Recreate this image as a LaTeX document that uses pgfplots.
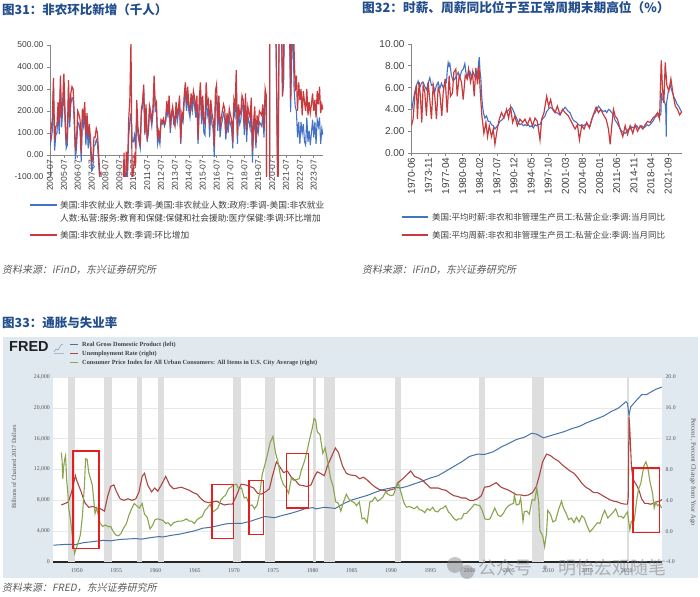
\documentclass[border=0pt]{standalone}
\usepackage{pgfplots}
\usepackage{pgfplotstable}
\pgfplotsset{compat=1.18}
\usepackage{fontspec}
\setmainfont{Liberation Sans}
\newfontfamily\cjk{Noto Sans CJK SC}
\newfontfamily\cjkit{Noto Sans CJK SC}[FakeSlant=0.2]
\newfontfamily\serif{Liberation Serif}

\definecolor{titleblue}{RGB}{35,78,140}
\definecolor{xlblue}{RGB}{68,114,196}
\definecolor{xlred}{RGB}{200,58,62}
\definecolor{xlaxis}{RGB}{134,134,134}
\definecolor{xllab}{RGB}{64,64,64}
\definecolor{srcgray}{RGB}{90,90,90}
\definecolor{fredbg}{RGB}{225,233,240}
\definecolor{fredgrid}{RGB}{232,232,232}
\definecolor{fredrec}{RGB}{222,222,222}
\definecolor{fredblue}{RGB}{69,114,167}
\definecolor{fredred}{RGB}{170,70,67}
\definecolor{fredgreen}{RGB}{137,165,78}
\definecolor{fredlab}{RGB}{85,85,85}
\definecolor{boxred}{RGB}{230,30,30}

% nonfarm payrolls, monthly change (thousands), 2004-07 .. 2024-03
% x = months since 2004-07, r = total, b = total - government - health care
\pgfplotstableread{
x r b
0 60 40
1 120 70
2 160 110
3 350 300
4 65 20
5 130 90
6 135 100
7 240 190
8 140 95
9 360 310
10 170 125
11 245 200
12 370 320
13 195 150
14 65 30
15 85 45
16 340 290
17 160 125
18 280 230
19 310 260
20 300 255
21 180 140
22 20 -20
23 80 40
24 200 150
25 185 140
26 160 110
27 10 -30
28 210 160
29 170 130
30 240 190
31 90 45
32 190 150
33 80 30
34 140 100
35 75 30
36 -30 -70
37 -20 -60
38 80 40
39 80 45
40 120 70
41 100 55
42 10 -30
43 -85 -120
44 -80 -120
45 -215 -250
46 -180 -220
47 -170 -210
48 -210 -250
49 -270 -310
50 -460 -500
51 -480 -520
52 -730 -770
53 -700 -740
54 -780 -820
55 -700 -740
56 -800 -840
57 -700 -750
58 -350 -390
59 -470 -510
60 -330 -370
61 -200 -240
62 -260 -300
63 -200 -240
64 10 -30
65 -280 -320
66 15 -10
67 -70 -100
68 160 80
69 250 150
70 520 190
71 -130 60
72 -80 60
73 -10 90
74 -50 30
75 250 200
76 125 90
77 85 60
78 40 30
79 210 190
80 240 220
81 320 300
82 100 90
83 230 210
84 70 60
85 110 100
86 225 200
87 200 170
88 145 130
89 210 190
90 360 320
91 225 200
92 240 210
93 75 50
94 110 80
95 75 50
96 160 150
97 150 140
98 165 150
99 140 130
100 160 150
101 245 220
102 190 170
103 270 250
104 120 100
105 190 170
106 220 200
107 175 140
108 140 130
109 240 210
110 180 150
111 210 190
112 270 240
113 60 50
114 190 170
115 170 150
116 270 240
117 330 290
118 230 200
119 310 270
120 230 200
121 200 170
122 280 240
123 230 200
124 290 260
125 260 220
126 200 170
127 270 230
128 70 50
129 250 210
130 330 290
131 180 140
132 270 230
133 150 100
134 140 90
135 330 280
136 230 180
137 250 210
138 130 80
139 250 200
140 190 140
141 160 120
142 40 -10
143 290 240
144 320 260
145 150 110
146 270 220
147 120 80
148 170 130
149 200 160
150 230 190
151 210 170
152 100 70
153 190 150
154 140 100
155 210 170
156 180 140
157 160 120
158 60 30
159 250 210
160 220 180
161 385 330
162 90 50
163 230 190
164 180 140
165 200 160
166 270 230
167 250 210
168 130 90
169 280 240
170 110 60
171 220 180
172 190 150
173 170 120
174 260 210
175 20 -35
176 150 110
177 220 170
178 60 30
179 180 130
180 140 100
181 200 150
182 190 140
183 180 130
184 230 180
185 120 80
186 300 250
187 270 220
188 -1400 -1300
189 -20500 -17000
190 2800 2300
191 4600 4200
192 1700 1500
193 1600 1200
194 700 900
195 680 700
196 260 270
197 -270 -200
198 520 600
199 710 650
200 700 600
201 270 265
202 455 330
203 960 800
204 1090 900
205 700 600
206 650 560
207 700 600
208 250 195
209 700 450
210 900 600
211 480 300
212 290 220
213 360 200
214 200 80
215 330 150
216 250 50
217 300 150
218 180 100
219 290 140
220 240 60
221 200 45
222 300 170
223 180 60
224 240 110
225 190 45
226 230 100
227 280 160
228 200 80
229 250 150
230 170 50
231 290 160
232 230 130
233 310 170
234 190 50
235 230 120
236 205 90
}\nfp

\begin{document}
\begin{tikzpicture}[x=1pt,y=1pt]
\useasboundingbox (0,0) rectangle (700,596);

% ---------------- 图31 ----------------
\node[anchor=west, inner sep=0, text=titleblue, font=\cjk\bfseries\fontsize{12.5}{14}\selectfont] at (2,586) {图31：非农环比新增（千人）};
\begin{axis}[
  at={(50pt,419pt)}, anchor=south west, scale only axis,
  width=273pt, height=132pt,
  xmin=0, xmax=236, ymin=-100, ymax=500,
  axis x line*=middle, axis y line*=left,
  axis line style={xlaxis, line width=0.6pt, -},
  hide obscured x ticks=false, hide obscured y ticks=false,
  xtick={0,12,...,228},
  xticklabels={2004-07,2005-07,2006-07,2007-07,2008-07,2009-07,2010-07,2011-07,2012-07,2013-07,2014-07,2015-07,2016-07,2017-07,2018-07,2019-07,2020-07,2021-07,2022-07,2023-07},
  ytick={-100,0,...,500},
  /pgf/number format/assume math mode=true,
  yticklabel style={/pgf/number format/.cd, fixed, fixed zerofill, precision=2, 1000 sep={}},
  ticklabel style={font=\fontsize{8.5}{9}\selectfont, text=xllab},
  xticklabel style={rotate=90, anchor=east, inner sep=1.5pt},
  tick align=outside, major tick length=3pt,
  tick style={xlaxis, line width=0.6pt},
]
\addplot[xlblue, line width=1.1pt] table[x=x, y=b] {\nfp};
\addplot[xlred, line width=1.2pt] table[x=x, y=r] {\nfp};
\end{axis}
\draw[xlblue, line width=1.3pt] (30,391) -- (57,391);
\node[anchor=west, inner sep=0, font=\cjk\fontsize{8.7}{10}\selectfont, text=xllab] at (60,391) {美国:非农就业人数:季调-美国:非农就业人数:政府:季调-美国:非农就业};
\node[anchor=west, inner sep=0, font=\cjk\fontsize{8.7}{10}\selectfont, text=xllab] at (60,378) {人数:私营:服务:教育和保健:保健和社会援助:医疗保健:季调:环比增加};
\draw[xlred, line width=1.3pt] (30,361) -- (57,361);
\node[anchor=west, inner sep=0, font=\cjk\fontsize{8.7}{10}\selectfont, text=xllab] at (60,361) {美国:非农就业人数:季调:环比增加};
\node[anchor=west, inner sep=0, font=\cjkit\fontsize{10}{11}\selectfont, text=srcgray] at (2,326) {资料来源：iFinD，东兴证券研究所};

% ---------------- 图32 ----------------
\node[anchor=west, inner sep=0, text=titleblue, font=\cjk\bfseries\fontsize{12.7}{14}\selectfont] at (362,588) {图32：时薪、周薪同比位于至正常周期末期高位（\%）};
\begin{axis}[
  at={(411pt,443pt)}, anchor=south west, scale only axis,
  width=271pt, height=109pt,
  xmin=1970.35, xmax=2024.45, ymin=0, ymax=10,
  axis x line*=bottom, axis y line*=left,
  axis line style={xlaxis, line width=0.6pt, -},
  xtick={1970.417,1973.833,1977.25,1980.667,1984.083,1987.5,1990.917,1994.333,1997.75,2001.167,2004.583,2008,2011.417,2014.833,2018.25,2021.667},
  xticklabels={1970-06,1973-11,1977-04,1980-09,1984-02,1987-07,1990-12,1994-05,1997-10,2001-03,2004-08,2008-01,2011-06,2014-11,2018-04,2021-09},
  ytick={0,2,...,10},
  /pgf/number format/assume math mode=true,
  yticklabel style={/pgf/number format/.cd, fixed, fixed zerofill, precision=2},
  ticklabel style={font=\fontsize{10}{11}\selectfont, text=xllab},
  xticklabel style={rotate=90, anchor=east, inner sep=1.5pt},
  tick align=outside, major tick length=3pt,
  tick style={xlaxis, line width=0.6pt},
]
\addplot[xlblue, line width=1.1pt] coordinates {
(1970.43,4.5) (1970.6,4.2) (1970.77,4.8) (1971.1,5.6) (1971.43,6.2) (1971.77,6.6) (1972.1,6.0) (1972.43,6.4) (1972.77,6.5) (1973.1,6.1) (1973.43,5.8) (1973.77,6.4) (1974.1,6.9) (1974.43,6.2) (1974.77,6.3) (1975.1,5.6) (1975.43,6.2) (1975.77,6.5) (1976.1,5.9) (1976.43,6.4) (1976.77,6.0) (1977.1,6.3) (1977.43,6.5) (1977.6,7.6) (1977.77,8.3) (1977.95,8.0) (1978.1,8.2) (1978.43,7.1) (1978.77,6.6) (1979.1,6.8) (1979.43,7.1) (1979.77,7.4) (1980.1,6.9) (1980.43,7.5) (1980.77,7.7) (1981.1,8.2) (1981.3,7.4) (1981.57,6.8) (1981.83,7.2) (1982.1,7.5) (1982.43,6.9) (1982.77,7.4) (1983.1,7.0) (1983.43,6.9) (1983.7,7.6) (1983.97,8.8) (1984.13,7.5) (1984.3,6.8) (1984.47,5.2) (1984.63,4.3) (1984.85,3.6) (1985.1,3.2) (1985.43,3.4) (1985.77,2.9) (1986.1,2.9) (1986.43,2.6) (1986.77,2.5) (1987.1,2.2) (1987.43,2.4) (1987.77,2.6) (1988.1,2.9) (1988.43,3.0) (1988.77,3.2) (1989.1,3.6) (1989.43,3.8) (1989.77,3.9) (1990.1,4.1) (1990.43,4.2) (1990.77,3.9) (1991.1,3.5) (1991.43,3.2) (1991.77,2.8) (1992.1,2.6) (1992.43,2.7) (1992.77,2.5) (1993.1,2.6) (1993.43,2.5) (1993.77,2.6) (1994.1,2.4) (1994.43,2.5) (1994.77,2.3) (1995.1,2.6) (1995.43,2.5) (1995.77,2.6) (1996.1,2.6) (1996.43,3.0) (1996.77,3.2) (1997.1,3.4) (1997.43,3.8) (1997.77,4.0) (1998.1,4.2) (1998.43,4.1) (1998.77,4.0) (1999.1,3.8) (1999.43,3.7) (1999.77,3.6) (2000.1,3.5) (2000.43,3.8) (2000.77,4.0) (2001.1,4.2) (2001.43,4.0) (2001.77,3.8) (2002.1,3.7) (2002.43,3.3) (2002.77,3.0) (2003.1,2.9) (2003.43,2.8) (2003.77,2.6) (2004.1,2.5) (2004.43,2.6) (2004.77,2.5) (2005.1,2.6) (2005.43,2.7) (2005.77,2.5) (2006.1,2.5) (2006.43,3.0) (2006.77,3.5) (2007.1,3.7) (2007.43,4.0) (2007.77,4.3) (2008.1,4.1) (2008.43,3.9) (2008.77,3.8) (2009.1,3.9) (2009.43,3.7) (2009.77,4.0) (2010.1,3.9) (2010.43,3.7) (2010.77,3.5) (2011.1,3.0) (2011.43,2.8) (2011.77,2.5) (2012.1,2.2) (2012.43,2.0) (2012.77,1.9) (2013.1,1.8) (2013.43,2.0) (2013.77,2.2) (2014.1,2.2) (2014.43,2.4) (2014.77,2.3) (2015.1,2.5) (2015.43,2.5) (2015.77,2.2) (2016.1,2.4) (2016.43,2.5) (2016.77,2.3) (2017.1,2.4) (2017.43,2.6) (2017.77,2.5) (2018.1,2.6) (2018.43,2.8) (2018.77,3.0) (2019.1,3.3) (2019.43,3.4) (2019.77,3.6) (2020.05,3.5) (2020.23,3.5) (2020.35,5.5) (2020.5,5.0) (2020.7,4.8) (2020.9,4.7) (2021.1,4.5) (2021.23,3.6) (2021.3,1.5) (2021.37,4.6) (2021.5,5.0) (2021.77,5.8) (2022.1,6.2) (2022.43,5.7) (2022.77,5.2) (2023.1,4.9) (2023.43,4.5) (2023.77,4.3) (2024.1,4.0) (2024.43,3.7)
};
\addplot[xlred, line width=1.2pt] coordinates {
(1970.43,2.5) (1970.77,3.1) (1971.1,5.2) (1971.43,6.2) (1971.63,3.1) (1971.97,6.5) (1972.23,5.2) (1972.5,2.8) (1972.77,6.2) (1973.1,5.6) (1973.43,3.4) (1973.77,6.5) (1974.1,4.9) (1974.43,3.1) (1974.77,6.2) (1975.1,5.2) (1975.43,3.1) (1975.77,6.0) (1976.1,5.5) (1976.5,3.4) (1976.77,5.5) (1977.17,6.8) (1977.57,3.7) (1977.97,7.1) (1978.23,5.2) (1978.63,5.5) (1978.9,7.4) (1979.3,7.7) (1979.57,5.2) (1979.97,7.1) (1980.43,6.5) (1980.77,4.9) (1981.17,7.1) (1981.57,6.8) (1981.83,7.7) (1982.23,6.5) (1982.63,7.4) (1982.97,5.2) (1983.3,7.8) (1983.63,6.3) (1983.9,8.0) (1984.23,5.2) (1984.5,3.4) (1984.9,1.8) (1985.3,2.8) (1985.63,1.5) (1985.97,2.5) (1986.43,1.5) (1986.77,2.2) (1987.1,0.8) (1987.57,2.2) (1987.97,3.1) (1988.43,3.7) (1988.9,3.2) (1989.43,4.0) (1989.83,3.2) (1990.23,4.2) (1990.63,2.8) (1991.1,3.4) (1991.57,2.5) (1992.1,3.1) (1992.63,2.8) (1993.1,3.1) (1993.57,2.6) (1994.1,3.2) (1994.63,2.5) (1995.1,3.2) (1995.57,2.9) (1996.1,1.2) (1996.43,3.1) (1996.9,3.7) (1997.43,5.2) (1997.83,4.3) (1998.23,4.9) (1998.63,4.0) (1999.1,3.7) (1999.57,4.3) (2000.1,3.5) (2000.63,4.0) (2001.1,3.7) (2001.77,3.4) (2002.43,2.8) (2003.1,2.2) (2003.57,2.6) (2003.97,1.2) (2004.43,2.5) (2004.9,2.2) (2005.43,2.8) (2005.97,2.3) (2006.43,3.1) (2006.9,3.7) (2007.3,4.2) (2007.77,3.7) (2008.23,4.0) (2008.77,3.5) (2009.3,3.1) (2009.77,2.2) (2010.1,0.8) (2010.5,2.8) (2010.77,4.0) (2011.1,3.4) (2011.57,3.1) (2012.1,2.2) (2012.63,1.5) (2013.1,2.5) (2013.57,1.7) (2014.1,2.5) (2014.63,1.8) (2015.1,2.6) (2015.57,2.0) (2016.1,2.5) (2016.63,2.2) (2017.1,2.6) (2017.57,2.9) (2018.1,2.8) (2018.63,3.2) (2019.1,3.4) (2019.57,3.7) (2019.97,3.1) (2020.3,8.5) (2020.57,5.8) (2020.83,4.6) (2021.1,8.3) (2021.43,6.2) (2021.83,5.7) (2022.23,6.8) (2022.63,5.5) (2023.1,4.3) (2023.57,4.0) (2023.97,3.5) (2024.43,3.8)
};
\end{axis}
\draw[xlblue, line width=1.3pt] (402,379) -- (428,379);
\node[anchor=west, inner sep=0, font=\cjk\fontsize{8.5}{10}\selectfont, text=xllab] at (432,379) {美国:平均时薪:非农和非管理生产员工:私营企业:季调:当月同比};
\draw[xlred, line width=1.3pt] (402,361) -- (428,361);
\node[anchor=west, inner sep=0, font=\cjk\fontsize{8.5}{10}\selectfont, text=xllab] at (432,361) {美国:平均周薪:非农和非管理生产员工:私营企业:季调:当月同比};
\node[anchor=west, inner sep=0, font=\cjkit\fontsize{10}{11}\selectfont, text=srcgray] at (362,326) {资料来源：iFinD，东兴证券研究所};

% ---------------- 图33 ----------------
\node[anchor=west, inner sep=0, text=titleblue, font=\cjk\bfseries\fontsize{12.5}{14}\selectfont] at (2,273) {图33：通胀与失业率};
\fill[fredbg] (3,18) rectangle (698,259);
\node[anchor=west, inner sep=0, font=\bfseries\fontsize{14.5}{15}\selectfont, text=black!88] at (9,249) {FRED};
\draw[fredblue!70, line width=0.5pt] (54,244) -- (56,247) -- (58,246) -- (61,251) -- (63,252);
\draw[fredblue!50, line width=0.4pt] (54,243) -- (64,243);
\draw[fredblue, line width=1pt] (70,251) -- (78,251);
\draw[fredred, line width=1pt] (70,242) -- (78,242);
\draw[fredgreen, line width=1pt] (70,233) -- (78,233);
\node[anchor=west, inner sep=0, font=\serif\bfseries\fontsize{6.3}{7}\selectfont, text=black!75] at (82,251) {Real Gross Domestic Product (left)};
\node[anchor=west, inner sep=0, font=\serif\bfseries\fontsize{6.3}{7}\selectfont, text=black!75] at (82,242) {Unemployment Rate (right)};
\node[anchor=west, inner sep=0, font=\serif\bfseries\fontsize{6.3}{7}\selectfont, text=black!75] at (82,233) {Consumer Price Index for All Urban Consumers: All Items in U.S. City Average (right)};

\begin{axis}[
  at={(53.4pt,34pt)}, anchor=south west, scale only axis,
  width=608.6pt, height=185pt,
  xmin=1947, xmax=2024.5, ymin=0, ymax=24000,
  axis background/.style={fill=white},
  axis x line*=bottom, axis y line*=left,
  x axis line style={black!85, line width=1.3pt, -},
  y axis line style={draw=none},
  major tick length=0pt,
  xtick={1950,1955,...,2020}, ytick={0,4000,...,24000},
  ymajorgrids, grid style={fredgrid, line width=0.6pt},
  scaled y ticks=false,
  /pgf/number format/assume math mode=true,
  xticklabel style={/pgf/number format/1000 sep={}, yshift=-3pt},
  yticklabel style={/pgf/number format/.cd, fixed, 1000 sep={,}},
  ticklabel style={font=\serif\fontsize{5.8}{6}\selectfont, text=fredlab},
]
\fill[fredrec] (axis cs:1948.9,0) rectangle (axis cs:1949.8,24000);
\fill[fredrec] (axis cs:1953.5,0) rectangle (axis cs:1954.4,24000);
\fill[fredrec] (axis cs:1957.6,0) rectangle (axis cs:1958.3,24000);
\fill[fredrec] (axis cs:1960.3,0) rectangle (axis cs:1961.1,24000);
\fill[fredrec] (axis cs:1969.9,0) rectangle (axis cs:1970.9,24000);
\fill[fredrec] (axis cs:1973.9,0) rectangle (axis cs:1975.2,24000);
\fill[fredrec] (axis cs:1980.0,0) rectangle (axis cs:1980.5,24000);
\fill[fredrec] (axis cs:1981.5,0) rectangle (axis cs:1982.9,24000);
\fill[fredrec] (axis cs:1990.5,0) rectangle (axis cs:1991.2,24000);
\fill[fredrec] (axis cs:2001.2,0) rectangle (axis cs:2001.9,24000);
\fill[fredrec] (axis cs:2007.9,0) rectangle (axis cs:2009.5,24000);
\fill[fredrec] (axis cs:2020.1,0) rectangle (axis cs:2020.35,24000);
\addplot[fredblue, line width=1pt] coordinates {
(1947.0,2180) (1948.8,2300) (1949.8,2260) (1950.8,2500) (1952.0,2640) (1953.3,2800) (1954.3,2750) (1955.5,2930) (1957.5,3040) (1958.2,2960) (1959.5,3180) (1960.3,3280) (1961.1,3270) (1962.0,3460) (1963.0,3600) (1964.0,3820) (1965.0,4050) (1966.0,4380) (1967.0,4500) (1968.0,4720) (1969.0,4950) (1969.9,5020) (1970.9,5000) (1972.0,5260) (1973.0,5600) (1973.9,5900) (1974.9,5780) (1975.2,5750) (1976.0,6000) (1977.0,6250) (1978.0,6550) (1979.0,6900) (1980.0,7050) (1980.5,6900) (1981.5,7100) (1982.9,6950) (1984.0,7600) (1985.0,8050) (1986.0,8350) (1987.0,8650) (1988.0,9050) (1989.0,9400) (1990.5,9700) (1991.2,9600) (1992.0,9800) (1993.0,10150) (1994.0,10500) (1995.0,10900) (1996.0,11200) (1997.0,11800) (1998.0,12400) (1999.0,13000) (2000.0,13700) (2001.0,14000) (2001.9,13950) (2003.0,14300) (2004.0,14900) (2005.0,15400) (2006.0,15900) (2007.0,16200) (2007.9,16700) (2008.5,16600) (2009.4,16100) (2010.0,16300) (2011.0,16600) (2012.0,16900) (2013.0,17300) (2014.0,17600) (2015.0,18100) (2016.0,18500) (2017.0,18900) (2018.0,19500) (2019.0,20000) (2019.9,20800) (2020.1,20600) (2020.3,19000) (2020.5,20100) (2021.0,20700) (2021.9,21700) (2022.5,21700) (2023.0,22000) (2023.7,22400) (2024.5,22700)
};
\end{axis}

\begin{axis}[
  at={(53.4pt,34pt)}, anchor=south west, scale only axis,
  width=608.6pt, height=185pt,
  xmin=1947, xmax=2024.5, ymin=-4, ymax=20,
  axis x line=none, axis y line*=right,
  y axis line style={draw=none},
  major tick length=0pt,
  ytick={-4,0,...,20},
  /pgf/number format/assume math mode=true,
  yticklabel style={/pgf/number format/.cd, fixed, fixed zerofill, precision=1},
  ticklabel style={font=\serif\fontsize{5.8}{6}\selectfont, text=fredlab},
]
\addplot[fredred, line width=1.1pt] coordinates {
(1948.0,3.4) (1948.5,3.6) (1948.9,3.8) (1949.3,5.0) (1949.8,7.2) (1950.0,6.5) (1950.5,5.2) (1951.0,3.7) (1951.5,3.1) (1952.0,3.2) (1952.5,3.0) (1953.0,2.9) (1953.5,2.6) (1953.9,4.5) (1954.3,5.8) (1954.7,6.0) (1955.0,5.2) (1955.5,4.2) (1956.0,4.0) (1956.5,4.2) (1957.0,4.0) (1957.5,4.2) (1957.9,5.1) (1958.3,7.1) (1958.6,7.5) (1959.0,6.0) (1959.5,5.1) (1959.9,5.6) (1960.3,5.2) (1960.8,6.1) (1961.3,7.1) (1961.8,6.0) (1962.3,5.5) (1962.8,5.6) (1963.3,5.7) (1963.8,5.5) (1964.3,5.3) (1964.8,5.0) (1965.3,4.8) (1965.8,4.2) (1966.3,3.8) (1966.8,3.7) (1967.3,3.8) (1967.8,3.9) (1968.3,3.6) (1968.8,3.4) (1969.3,3.5) (1969.8,3.5) (1970.3,4.6) (1970.9,6.1) (1971.5,6.0) (1972.0,5.8) (1972.5,5.6) (1973.0,4.9) (1973.5,4.8) (1974.0,5.1) (1974.5,5.5) (1974.9,7.2) (1975.4,9.0) (1975.8,8.4) (1976.3,7.6) (1976.8,7.8) (1977.3,7.0) (1977.8,6.6) (1978.3,6.0) (1978.8,5.9) (1979.3,5.8) (1979.8,6.0) (1980.3,7.2) (1980.6,7.7) (1981.0,7.5) (1981.5,7.2) (1981.9,8.5) (1982.3,9.4) (1982.9,10.8) (1983.3,10.2) (1983.8,8.5) (1984.3,7.5) (1984.8,7.3) (1985.5,7.2) (1986.0,6.8) (1986.5,7.0) (1987.0,6.6) (1987.5,6.1) (1988.0,5.7) (1988.5,5.4) (1989.0,5.3) (1989.5,5.2) (1990.0,5.4) (1990.5,5.5) (1991.0,6.4) (1991.5,6.8) (1992.0,7.3) (1992.5,7.8) (1993.0,7.1) (1993.5,6.9) (1994.0,6.6) (1994.5,6.1) (1995.0,5.6) (1995.5,5.6) (1996.0,5.6) (1996.5,5.4) (1997.0,5.3) (1997.5,4.9) (1998.0,4.6) (1998.5,4.5) (1999.0,4.3) (1999.5,4.3) (2000.0,4.0) (2000.5,4.0) (2001.0,4.2) (2001.5,4.6) (2001.9,5.7) (2002.5,5.8) (2003.4,6.3) (2004.0,5.7) (2004.5,5.5) (2005.0,5.3) (2005.5,5.0) (2006.0,4.7) (2006.5,4.7) (2007.0,4.6) (2007.5,4.7) (2008.0,5.0) (2008.5,5.8) (2008.9,7.3) (2009.3,9.0) (2009.8,10.0) (2010.3,9.8) (2010.8,9.4) (2011.3,9.1) (2011.8,8.6) (2012.3,8.2) (2012.8,7.8) (2013.3,7.5) (2013.8,6.9) (2014.3,6.2) (2014.8,5.7) (2015.3,5.4) (2015.8,5.0) (2016.3,5.0) (2016.8,4.7) (2017.3,4.4) (2017.8,4.1) (2018.3,3.9) (2018.8,3.8) (2019.3,3.6) (2019.8,3.5) (2020.1,3.5) (2020.2,4.4) (2020.3,14.8) (2020.4,13.2) (2020.5,11.0) (2020.6,8.4) (2020.8,6.8) (2021.0,6.4) (2021.3,5.9) (2021.6,5.2) (2021.9,4.2) (2022.3,3.6) (2022.7,3.6) (2023.0,3.5) (2023.4,3.6) (2023.8,3.8) (2024.2,3.9) (2024.5,4.1)
};
\addplot[fredgreen, line width=1.1pt] coordinates {
(1948.0,10.2) (1948.1,9.3) (1948.2,6.8) (1948.3,8.3) (1948.45,9.4) (1948.55,9.8) (1948.7,6.5) (1948.85,4.8) (1948.95,3.0) (1949.2,1.3) (1949.45,-0.9) (1949.7,-2.9) (1949.95,-2.1) (1950.3,-1.0) (1950.45,-0.4) (1950.7,2.0) (1950.95,5.9) (1951.1,9.4) (1951.3,9.3) (1951.5,7.6) (1951.7,6.9) (1951.95,6.0) (1952.3,2.3) (1952.5,3.0) (1952.7,2.2) (1952.95,1.0) (1953.3,0.6) (1953.6,0.8) (1953.95,0.6) (1954.3,0.6) (1954.6,0.0) (1954.95,-0.5) (1955.3,-0.6) (1955.6,-0.3) (1955.95,0.4) (1956.3,1.0) (1956.6,2.0) (1956.95,2.9) (1957.3,3.6) (1957.6,3.3) (1957.95,3.0) (1958.3,3.6) (1958.6,2.2) (1958.95,1.8) (1959.3,0.3) (1959.6,0.7) (1959.95,1.5) (1960.3,1.6) (1960.6,1.5) (1960.95,1.4) (1961.3,1.0) (1961.6,1.1) (1961.95,0.7) (1962.3,1.1) (1962.6,1.2) (1962.95,1.3) (1963.3,1.3) (1963.6,1.4) (1963.95,1.6) (1964.3,1.3) (1964.6,1.3) (1964.95,1.0) (1965.3,1.5) (1965.6,1.7) (1965.95,1.9) (1966.3,2.7) (1966.6,3.0) (1966.95,3.5) (1967.3,2.5) (1967.6,2.7) (1967.95,3.0) (1968.3,4.0) (1968.6,4.4) (1968.95,4.7) (1969.3,5.5) (1969.6,5.7) (1969.95,6.0) (1970.3,6.1) (1970.6,5.5) (1970.95,5.6) (1971.3,4.3) (1971.6,4.4) (1971.95,3.3) (1972.3,3.4) (1972.6,2.9) (1972.95,3.4) (1973.3,5.1) (1973.6,7.4) (1973.95,8.7) (1974.3,10.1) (1974.6,11.5) (1974.95,12.3) (1975.3,10.1) (1975.6,9.0) (1975.95,7.0) (1976.3,6.0) (1976.6,5.7) (1976.95,4.9) (1977.3,6.9) (1977.6,6.6) (1977.95,6.7) (1978.3,6.8) (1978.6,8.0) (1978.95,9.0) (1979.3,10.4) (1979.6,11.8) (1979.95,13.3) (1980.2,14.6) (1980.4,14.4) (1980.6,12.9) (1980.95,12.5) (1981.3,10.1) (1981.6,10.8) (1981.95,8.9) (1982.3,6.8) (1982.6,5.9) (1982.95,3.8) (1983.3,3.6) (1983.6,2.6) (1983.95,3.8) (1984.3,4.8) (1984.6,4.2) (1984.95,3.9) (1985.3,3.7) (1985.6,3.3) (1985.95,3.8) (1986.3,1.6) (1986.6,1.7) (1986.95,1.1) (1987.3,3.8) (1987.6,3.9) (1987.95,4.4) (1988.3,3.9) (1988.6,4.1) (1988.95,4.4) (1989.3,5.1) (1989.6,4.8) (1989.95,4.6) (1990.3,4.7) (1990.6,5.6) (1990.8,6.3) (1990.95,6.1) (1991.3,4.9) (1991.6,3.8) (1991.95,3.1) (1992.3,3.2) (1992.6,3.1) (1992.95,2.9) (1993.3,3.2) (1993.6,2.8) (1993.95,2.7) (1994.3,2.4) (1994.6,2.9) (1994.95,2.7) (1995.3,3.1) (1995.6,2.6) (1995.95,2.5) (1996.3,2.9) (1996.6,3.0) (1996.95,3.3) (1997.3,2.5) (1997.6,2.2) (1997.95,1.7) (1998.3,1.4) (1998.6,1.6) (1998.95,1.6) (1999.3,2.3) (1999.6,2.3) (1999.95,2.7) (2000.3,3.1) (2000.6,3.5) (2000.95,3.4) (2001.3,3.3) (2001.6,2.7) (2001.95,1.6) (2002.3,1.5) (2002.6,1.6) (2002.95,2.4) (2003.2,3.0) (2003.6,2.1) (2003.95,1.9) (2004.3,2.3) (2004.6,2.9) (2004.95,3.3) (2005.3,3.5) (2005.6,3.6) (2005.7,4.7) (2005.95,3.4) (2006.3,3.5) (2006.5,4.3) (2006.8,1.3) (2006.95,2.5) (2007.3,2.6) (2007.6,2.2) (2007.95,4.1) (2008.3,4.0) (2008.55,5.6) (2008.8,3.7) (2008.95,0.1) (2009.3,-0.6) (2009.55,-2.0) (2009.8,-0.2) (2009.95,2.7) (2010.3,2.2) (2010.6,1.2) (2010.95,1.4) (2011.3,2.7) (2011.7,3.9) (2011.95,3.0) (2012.3,2.3) (2012.6,1.5) (2012.95,1.7) (2013.3,1.1) (2013.6,1.8) (2013.95,1.2) (2014.3,2.0) (2014.6,1.7) (2014.95,0.7) (2015.3,-0.1) (2015.6,0.2) (2015.95,0.7) (2016.3,1.1) (2016.6,1.0) (2016.95,2.1) (2017.2,2.7) (2017.6,1.7) (2017.95,2.1) (2018.3,2.5) (2018.6,2.9) (2018.95,1.9) (2019.3,1.9) (2019.6,1.7) (2019.95,2.3) (2020.1,2.5) (2020.4,0.2) (2020.6,1.3) (2020.95,1.3) (2021.3,4.2) (2021.5,5.4) (2021.8,6.2) (2021.95,7.1) (2022.2,8.5) (2022.45,9.0) (2022.7,8.2) (2022.95,6.5) (2023.3,4.9) (2023.5,3.0) (2023.7,3.7) (2023.95,3.3) (2024.2,3.5) (2024.45,3.0)
};
\draw[boxred, line width=1.2pt] (axis cs:1949.5,-2.2) rectangle (axis cs:1952.8,10.4);
\draw[boxred, line width=1.2pt] (axis cs:1967.2,-0.9) rectangle (axis cs:1969.9,6.1);
\draw[boxred, line width=1.2pt] (axis cs:1971.9,-0.4) rectangle (axis cs:1973.8,6.6);
\draw[boxred, line width=1.2pt] (axis cs:1976.7,3.0) rectangle (axis cs:1979.5,10.1);
\draw[boxred, line width=1.2pt] (axis cs:2020.8,-0.2) rectangle (axis cs:2024.2,8.2);
\end{axis}
\node[rotate=90, inner sep=0, font=\serif\fontsize{6.3}{7}\selectfont, text=fredlab] at (14,129) {Billions of Chained 2017 Dollars};
\node[rotate=-90, inner sep=0, font=\serif\fontsize{6.6}{7}\selectfont, text=fredlab] at (693,124) {Percent , Percent Change from Year Ago};
% watermark (overlays the x tick labels, as in the source)
\fill[gray, opacity=0.45] (455,31) circle (8);
\fill[gray, opacity=0.45] (467,24) circle (7);
\node[anchor=west, inner sep=0, font=\cjk\fontsize{18}{20}\selectfont, text=gray, opacity=0.55] at (478,28) {公众号 · 明怡宏观随笔};
\node[anchor=west, inner sep=0, font=\cjkit\fontsize{10}{11}\selectfont, text=srcgray] at (2,8) {资料来源：FRED，东兴证券研究所};
\end{tikzpicture}
\end{document}
